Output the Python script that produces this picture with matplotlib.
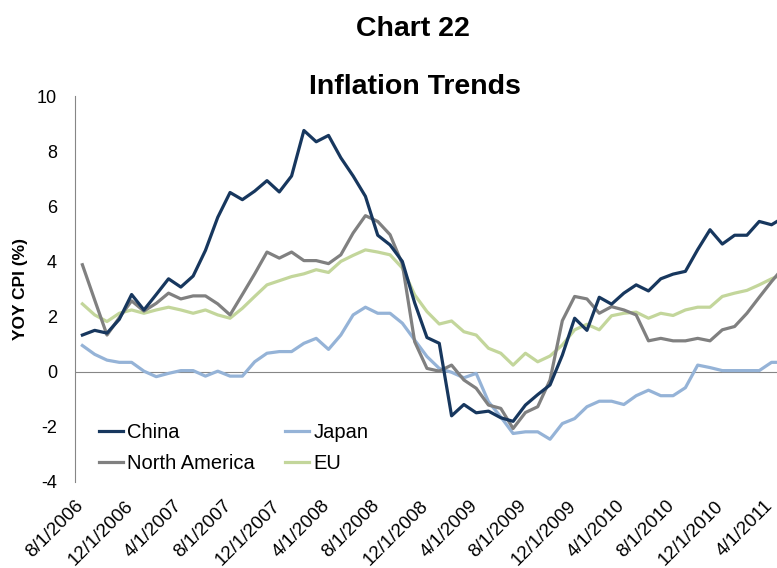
import numpy as np
import matplotlib
matplotlib.use('Agg')
import matplotlib.pyplot as plt

plt.rcParams['font.family'] = ['Liberation Sans', 'DejaVu Sans']
plt.rcParams['axes.unicode_minus'] = False

# monthly YOY CPI, 8/1/2006 .. 5/1/2011
china = [1.33, 1.5, 1.4, 1.9, 2.8, 2.24, 2.8, 3.37, 3.07, 3.47,
         4.4, 5.6, 6.5, 6.24, 6.55, 6.93, 6.52, 7.1, 8.75, 8.34,
         8.57, 7.76, 7.1, 6.36, 4.95, 4.6, 4.0, 2.5, 1.24, 1.03,
         -1.6, -1.19, -1.49, -1.43, -1.67, -1.8, -1.21, -0.83, -0.48, 0.6,
         1.94, 1.5, 2.7, 2.45, 2.85, 3.15, 2.93, 3.37, 3.54, 3.64,
         4.43, 5.15, 4.63, 4.95, 4.95, 5.45, 5.33, 5.6]
japan = [0.95, 0.63, 0.42, 0.34, 0.34, 0.02, -0.18, -0.06, 0.04, 0.04,
         -0.16, 0.02, -0.16, -0.16, 0.36, 0.67, 0.73, 0.73, 1.03, 1.21,
         0.81, 1.33, 2.06, 2.34, 2.12, 2.12, 1.76, 1.15, 0.55, 0.12,
         -0.02, -0.22, -0.06, -1.09, -1.64, -2.24, -2.18, -2.18, -2.45, -1.88,
         -1.7, -1.27, -1.07, -1.07, -1.19, -0.87, -0.67, -0.87, -0.87, -0.58,
         0.24, 0.15, 0.04, 0.04, 0.04, 0.04, 0.34, 0.34]
north_america = [3.88, 2.6, 1.33, 1.96, 2.57, 2.2, 2.48, 2.85, 2.64, 2.75,
                 2.75, 2.46, 2.06, 2.8, 3.55, 4.34, 4.12, 4.34, 4.03, 4.03,
                 3.92, 4.24, 5.03, 5.66, 5.45, 4.97, 3.9, 1.09, 0.12, 0.02,
                 0.24, -0.3, -0.6, -1.21, -1.33, -2.06, -1.48, -1.27, -0.3, 1.85,
                 2.73, 2.64, 2.12, 2.36, 2.24, 2.06, 1.12, 1.21, 1.12, 1.12,
                 1.21, 1.12, 1.52, 1.64, 2.12, 2.7, 3.27, 3.8]
eu = [2.46, 2.06, 1.82, 2.12, 2.24, 2.12, 2.24, 2.34, 2.24, 2.12,
      2.24, 2.06, 1.94, 2.3, 2.73, 3.15, 3.3, 3.45, 3.55, 3.7,
      3.6, 4.0, 4.22, 4.42, 4.34, 4.24, 3.76, 2.79, 2.18, 1.73,
      1.84, 1.45, 1.33, 0.85, 0.67, 0.24, 0.67, 0.36, 0.57, 0.97,
      1.52, 1.72, 1.52, 2.03, 2.12, 2.16, 1.94, 2.12, 2.04, 2.24,
      2.34, 2.34, 2.73, 2.85, 2.95, 3.15, 3.37, 3.55]

tick_labels = ['8/1/2006', '12/1/2006', '4/1/2007', '8/1/2007', '12/1/2007',
               '4/1/2008', '8/1/2008', '12/1/2008', '4/1/2009', '8/1/2009',
               '12/1/2009', '4/1/2010', '8/1/2010', '12/1/2010', '4/1/2011']


def draw():
    fig = plt.figure(figsize=(7.77, 5.68), dpi=100)
    W, H = 777.0, 568.0
    # axes runs past the right edge of the picture, like the cropped original
    ax = fig.add_axes([75 / W, 1 - 482 / H, 715 / W, 386 / H])

    x = np.arange(len(china))
    l1, = ax.plot(x, china, color='#17375E', lw=2.3, label='China', zorder=4)
    l2, = ax.plot(x, japan, color='#95B3D7', lw=2.3, label='Japan', zorder=3)
    l3, = ax.plot(x, north_america, color='#808080', lw=2.3, label='North America', zorder=3)
    l4, = ax.plot(x, eu, color='#C3D69B', lw=2.3, label='EU', zorder=2)

    ax.axhline(0, color='#868686', lw=0.8, zorder=1)

    ax.set_xlim(-0.5, len(china) - 0.5)
    ax.set_ylim(-4, 10)
    ax.set_yticks(range(-4, 11, 2))
    # rotated labels end a little left of the month they name (no tick marks drawn)
    ax.set_xticks(np.arange(0, len(china), 4) - 0.6)
    ax.set_xticklabels(tick_labels, rotation=45, ha='right', rotation_mode='anchor')

    for s in ['top', 'right', 'bottom']:
        ax.spines[s].set_visible(False)
    ax.spines['left'].set_color('#868686')
    ax.spines['left'].set_linewidth(0.8)
    ax.tick_params(axis='y', length=0, pad=13, labelsize=13)
    ax.tick_params(axis='x', length=0, pad=11, labelsize=13.5)

    ax.set_ylabel('YOY CPI (%)', fontsize=12.5, fontweight='bold', labelpad=6)

    fig.text(413 / W, 1 - 29 / H, 'Chart 22', ha='center', va='center',
             fontsize=20.5, fontweight='bold')
    fig.text(415 / W, 1 - 87 / H, 'Inflation Trends', ha='center', va='center',
             fontsize=20.5, fontweight='bold')

    # order so the two columns read China/Japan on top, North America/EU below
    ax.legend([l1, l3, l2, l4], ['China', 'North America', 'Japan', 'EU'],
              ncol=2, frameon=False, fontsize=14.5, loc='upper left',
              bbox_to_anchor=(99 / W, 1 - 423 / H), bbox_transform=fig.transFigure,
              borderpad=0, borderaxespad=0, handlelength=1.2, handletextpad=0.2,
              columnspacing=1.5, labelspacing=0.6)

    fig.savefig('out.png', dpi=100)


def main():
    draw()


if __name__ == '__main__':
    main()
